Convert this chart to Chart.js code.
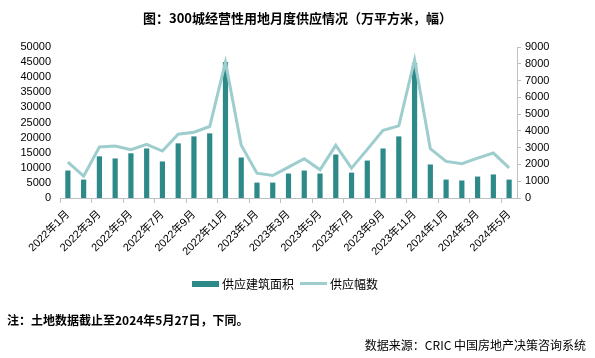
<!DOCTYPE html>
<html lang="zh">
<head>
  <meta charset="UTF-8" />
  <title>300城经营性用地月度供应情况</title>
  <script src="https://cdn.jsdelivr.net/npm/chart.js"></script>
  <style>
    html, body {
      margin: 0;
      padding: 0;
      background: #ffffff;
      width: 595px;
      height: 358px;
      overflow: hidden;
      font-family: "Liberation Sans", "Noto Sans CJK SC", sans-serif;
    }
    #wrap { position: relative; width: 595px; height: 358px; }
    #chart { position: absolute; left: 0; top: 0; }
    .title {
      position: absolute; left: 0; width: 595px; top: 8px;
      text-align: center; font-weight: bold; font-size: 13px; color: #000;
      font-family: "Noto Sans CJK SC", sans-serif;
    }
    .legend {
      position: absolute; top: 275px; left: 192px; font-size: 12px; color: #000;
      font-family: "Noto Sans CJK SC", sans-serif; display: flex; align-items: center;
    }
    .legend .box { display: inline-block; width: 27px; height: 6px; margin-right: 3px; }
    .legend .ln { display: inline-block; width: 27px; height: 3px; margin: 0 3px 0 6px; }
    .note {
      position: absolute; left: 7px; top: 311px; font-weight: bold; font-size: 12px;
      font-family: "Noto Sans CJK SC", sans-serif; color: #000;
    }
    .source {
      position: absolute; right: 9px; top: 336px; font-size: 12px;
      font-family: "Noto Sans CJK SC", sans-serif; color: #000;
    }
  </style>
</head>
<body>
<div id="wrap">
  <canvas id="chart" width="595" height="358"></canvas>
  <div class="title">图：300城经营性用地月度供应情况（万平方米，幅）</div>
  <div class="legend">
    <span class="box" style="background:#2e8a88"></span>供应建筑面积
    <span class="ln" style="background:#9ecdce"></span>供应幅数
  </div>
  <div class="note">注：土地数据截止至2024年5月27日，下同。</div>
  <div class="source">数据来源：CRIC 中国房地产决策咨询系统</div>
</div>

<script>
  // months 2022-01 .. 2024-05
  const months = [
    '2022年1月', '2022年2月', '2022年3月', '2022年4月', '2022年5月', '2022年6月',
    '2022年7月', '2022年8月', '2022年9月', '2022年10月', '2022年11月', '2022年12月',
    '2023年1月', '2023年2月', '2023年3月', '2023年4月', '2023年5月', '2023年6月',
    '2023年7月', '2023年8月', '2023年9月', '2023年10月', '2023年11月', '2023年12月',
    '2024年1月', '2024年2月', '2024年3月', '2024年4月', '2024年5月'
  ];

  // 供应建筑面积 (万平方米)
  const area = [
    9100, 6100, 13800, 13100, 14800, 16400, 12100, 18100, 20400, 21400, 45000, 13400,
    5100, 5100, 8100, 9100, 8100, 14400, 8400, 12400, 16400, 20400, 44700, 11100,
    6100, 5800, 7100, 7800, 6100
  ];

  // 供应幅数
  const parcels = [
    2140, 1300, 3040, 3100, 2880, 3200, 2800, 3800, 3920, 4260, 8100, 3140,
    1480, 1340, 1840, 2340, 1680, 3140, 1780, 2900, 4040, 4300, 8240, 2940,
    2180, 2040, 2380, 2680, 1800
  ];

  const leftTicks = { min: 0, max: 50000, step: 5000 };
  const rightTicks = { min: 0, max: 9000, step: 1000 };

  const barColor = '#2e8a88';
  const lineColor = '#9ecdce';
  const axisGrey = '#bfbfbf';
  const fontFamily = '"Liberation Sans", "Noto Sans CJK SC", sans-serif';

  new Chart(document.getElementById('chart'), {
    data: {
      labels: months,
      datasets: [
        {
          type: 'line',
          label: '供应幅数',
          data: parcels,
          yAxisID: 'y1',
          borderColor: lineColor,
          backgroundColor: lineColor,
          borderWidth: 3,
          pointRadius: 0,
          tension: 0,
          order: 1
        },
        {
          type: 'bar',
          label: '供应建筑面积',
          data: area,
          yAxisID: 'y',
          backgroundColor: barColor,
          barPercentage: 0.33,
          categoryPercentage: 1,
          order: 2
        }
      ]
    },
    options: {
      responsive: false,
      animation: false,
      layout: { padding: { top: 47, left: 0, right: 0, bottom: 100 } },
      plugins: {
        legend: { display: false },
        tooltip: { enabled: false }
      },
      scales: {
        x: {
          afterFit: s => { s.height = 60; },
          grid: {
            drawOnChartArea: false,
            drawTicks: true,
            tickLength: 5,
            color: ctx => (ctx.index % 2 === 0 ? axisGrey : 'rgba(0,0,0,0)')
          },
          border: { display: true, color: axisGrey },
          ticks: {
            autoSkip: false,
            minRotation: 45,
            maxRotation: 45,
            padding: 5,
            color: '#000',
            font: { family: fontFamily, size: 11 },
            callback: function (v, i) { return i % 2 === 0 ? this.getLabelForValue(v) : ''; }
          }
        },
        y: {
          position: 'left',
          min: leftTicks.min,
          max: leftTicks.max,
          afterFit: s => { s.width = 60; },
          grid: { display: false, drawTicks: false },
          border: { display: false },
          ticks: {
            stepSize: leftTicks.step,
            autoSkip: false,
            padding: 9,
            color: '#000',
            font: { family: fontFamily, size: 11 },
            callback: v => String(v)
          }
        },
        y1: {
          position: 'right',
          min: rightTicks.min,
          max: rightTicks.max,
          afterFit: s => { s.width = 78; },
          grid: { drawOnChartArea: false, drawTicks: true, tickLength: 4, color: axisGrey },
          border: { display: true, color: axisGrey },
          ticks: {
            stepSize: rightTicks.step,
            autoSkip: false,
            padding: 4,
            color: '#000',
            font: { family: fontFamily, size: 11 },
            callback: v => String(v)
          }
        }
      }
    }
  });
</script>
</body>
</html>
